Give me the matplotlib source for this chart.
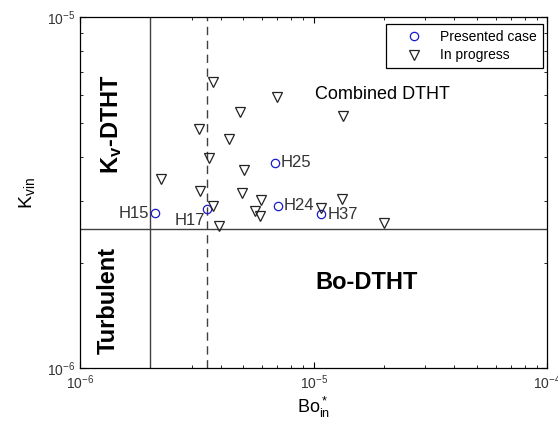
import matplotlib
matplotlib.use("Agg")
import matplotlib.pyplot as plt
from matplotlib.ticker import NullFormatter, LogLocator
import numpy as np

plt.rcParams['font.family'] = ['Liberation Sans', 'DejaVu Sans']
plt.rcParams['mathtext.fontset'] = 'custom'
plt.rcParams['mathtext.rm'] = 'Liberation Sans'
plt.rcParams['mathtext.it'] = 'Liberation Sans:italic'
plt.rcParams['mathtext.bf'] = 'Liberation Sans:bold'

# presented cases (circles)
case_names = ['H15', 'H17', 'H25', 'H24', 'H37']
case_bo = [2.10e-6, 3.49e-6, 6.83e-6, 7.06e-6, 1.075e-5]
case_kv = [2.765e-6, 2.84e-6, 3.85e-6, 2.90e-6, 2.75e-6]

# cases in progress (triangles)
prog_bo = [3.72e-6, 6.95e-6, 4.84e-6, 1.34e-5, 3.22e-6, 4.36e-6, 3.57e-6,
           5.02e-6, 2.22e-6, 3.26e-6, 4.92e-6, 5.93e-6, 3.72e-6, 5.61e-6,
           5.89e-6, 3.95e-6, 1.075e-5, 1.318e-5, 2.007e-5]
prog_kv = [6.55e-6, 5.94e-6, 5.36e-6, 5.23e-6, 4.81e-6, 4.49e-6, 3.96e-6,
           3.68e-6, 3.47e-6, 3.19e-6, 3.15e-6, 3.02e-6, 2.90e-6, 2.81e-6,
           2.72e-6, 2.54e-6, 2.87e-6, 3.03e-6, 2.59e-6]

# regime boundaries
bo_turb = 2e-6
bo_dash = 3.5e-6
kv_limit = 2.5e-6

fig = plt.figure(figsize=(5.58, 4.32), dpi=100)
ax = fig.add_axes([0.1434, 0.1475, 0.8375, 0.8125])
ax.set_xscale('log')
ax.set_yscale('log')
ax.set_xlim(1e-6, 1e-4)
ax.set_ylim(1e-6, 1e-5)

ax.axvline(bo_turb, color='#404040', lw=1.0)
ax.axvline(bo_dash, color='#404040', lw=1.0, ls=(0, (6, 4)))
ax.axhline(kv_limit, color='#404040', lw=1.0)

ax.plot(case_bo, case_kv, 'o', mfc='none', mec='#1a1acc', ms=6, mew=0.9,
        label='Presented case', zorder=3)
ax.plot(prog_bo, prog_kv, 'v', mfc='none', mec='#222222', ms=7.5, mew=0.9,
        label='In progress', zorder=3)

# label offsets in points
offsets = {'H15': (-4.5, 0, 'right'), 'H17': (-1.5, -8.5, 'right'),
           'H25': (4, 0, 'left'), 'H24': (4, 0, 'left'), 'H37': (5, 0, 'left')}
for name, x, y in zip(case_names, case_bo, case_kv):
    dx, dy, ha = offsets[name]
    ax.annotate(name, (x, y), xytext=(dx, dy), textcoords='offset points',
                ha=ha, va='center', fontsize=12, color='#333333')

ax.text(0.503, 0.779, 'Combined DTHT', transform=ax.transAxes, fontsize=13,
        ha='left', va='center')
ax.text(0.503, 0.243, 'Bo-DTHT', transform=ax.transAxes, fontsize=17,
        fontweight='bold', ha='left', va='center')
ax.text(0.060, 0.192, 'Turbulent', transform=ax.transAxes, fontsize=17,
        fontweight='bold', rotation=90, ha='center', va='center')
ax.text(0.0685, 0.696, r'K$_\mathbf{v}$-DTHT', transform=ax.transAxes,
        fontsize=17, fontweight='bold', rotation=90, ha='center', va='center')

ax.set_xlabel(r'Bo$^*_{\mathrm{in}}$', fontsize=13)
ax.set_ylabel(r'K$_{\mathrm{vin}}$', fontsize=14)
ax.xaxis.set_label_coords(0.5, -0.075)
ax.yaxis.set_label_coords(-0.092, 0.5)

ax.xaxis.set_major_locator(LogLocator(base=10, numticks=5))
ax.yaxis.set_major_locator(LogLocator(base=10, numticks=5))
ax.xaxis.set_minor_formatter(NullFormatter())
ax.yaxis.set_minor_formatter(NullFormatter())
ax.tick_params(which='both', direction='in', top=True, right=True,
               labelsize=10, labelcolor='#333333')
ax.tick_params(which='major', length=4)
ax.tick_params(which='minor', length=2.5)
for s in ax.spines.values():
    s.set_linewidth(0.9)

leg = ax.legend(loc='upper right', bbox_to_anchor=(0.99, 0.981),
                borderaxespad=0, fancybox=False, edgecolor='black',
                framealpha=1, fontsize=10, handlelength=3.2,
                handletextpad=0.3, labelspacing=0.35, borderpad=0.4)
leg.get_frame().set_linewidth(0.9)

fig.savefig('out.png', dpi=100)
